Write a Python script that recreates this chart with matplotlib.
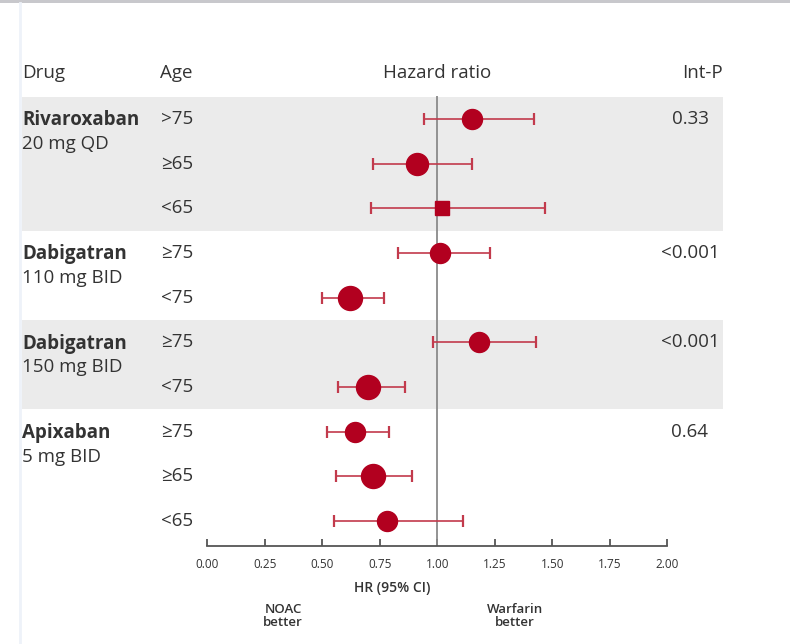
import matplotlib
matplotlib.use("Agg")
import matplotlib.pyplot as plt
import matplotlib.transforms as mtransforms
from matplotlib.patches import Rectangle
import numpy as np

# subgroup data: NOAC vs warfarin by age
drugs = ["Rivaroxaban", "Dabigatran", "Dabigatran", "Apixaban"]
doses = ["20 mg QD", "110 mg BID", "150 mg BID", "5 mg BID"]
group_sizes = [3, 2, 2, 3]
int_p = ["0.33", "<0.001", "<0.001", "0.64"]

ages = [">75", "≥65", "<65", "≥75", "<75", "≥75", "<75", "≥75", "≥65", "<65"]
hr = [1.15, 0.91, 1.02, 1.01, 0.62, 1.18, 0.70, 0.64, 0.72, 0.78]
ci_low = [0.94, 0.72, 0.71, 0.83, 0.50, 0.98, 0.57, 0.52, 0.56, 0.55]
ci_high = [1.42, 1.15, 1.47, 1.23, 0.77, 1.43, 0.86, 0.79, 0.89, 1.11]

xticks = [0.0, 0.25, 0.5, 0.75, 1.0, 1.25, 1.5, 1.75, 2.0]

# marker diameter (px) per row, square for the smallest subgroup
marker_px = [20, 22, 14, 20, 24, 20, 24, 20, 24, 20]
marker_shape = ["o", "o", "s", "o", "o", "o", "o", "o", "o", "o"]

W, H = 790, 644
RED = "#b2001f"
CI_RED = "#c23a4c"
TXT = "#333333"
FS = 13.5
plt.rcParams["font.family"] = ["Open Sans", "DejaVu Sans"]

fig = plt.figure(figsize=(W / 100, H / 100), dpi=100)


def fx(px):
    return px / W


def fy(px):
    return 1 - px / H


ax = fig.add_axes([fx(207.3), fy(546), fx(667.3) - fx(207.3), fy(96) - fy(546)])
ax.patch.set_visible(False)
ax.set_xlim(0, 2)
ax.set_ylim(9.56, -0.515)

rows = np.arange(len(hr))
hr_a = np.array(hr)
err = [hr_a - np.array(ci_low), np.array(ci_high) - hr_a]

ax.errorbar(hr_a, rows, xerr=err, fmt="none", ecolor=CI_RED,
            elinewidth=1.2, capsize=4.5, capthick=1.6, zorder=3)
for i in rows:
    ax.plot(hr[i], i, marker=marker_shape[i], color=RED, ms=marker_px[i] * 0.72,
            mec=RED, zorder=4, linestyle="none")

ax.axvline(1.0, color="#8a8a8a", lw=1.3, zorder=2)

# shaded bands behind alternate drug groups
blend = mtransforms.blended_transform_factory(fig.transFigure, ax.transData)
starts = np.cumsum([0] + group_sizes[:-1])
for g, (s, n) in enumerate(zip(starts, group_sizes)):
    if g % 2 == 0:
        ax.add_patch(Rectangle((fx(22), s - 0.5), fx(723) - fx(22), n,
                               transform=blend, facecolor="#ebebeb",
                               edgecolor="none", clip_on=False, zorder=0))
    ax.text(fx(22), s + 0.03, drugs[g], transform=blend, ha="left", va="center",
            fontsize=FS, fontweight="bold", color=TXT)
    ax.text(fx(22), s + 0.56, doses[g], transform=blend, ha="left", va="center",
            fontsize=FS, color=TXT)
    ax.text(fx(690), s, int_p[g], transform=blend, ha="center", va="center",
            fontsize=FS, color=TXT)

for i in rows:
    ax.text(fx(161), i, ages[i], transform=blend, ha="left", va="center",
            fontsize=FS, color=TXT)

# column headers
fig.text(fx(22), fy(73), "Drug", ha="left", va="center", fontsize=FS, color=TXT)
fig.text(fx(160), fy(73), "Age", ha="left", va="center", fontsize=FS, color=TXT)
fig.text(fx(437), fy(73), "Hazard ratio", ha="center", va="center", fontsize=FS, color=TXT)
fig.text(fx(723), fy(73), "Int-P", ha="right", va="center", fontsize=FS, color=TXT)

# x axis
for side in ["top", "right", "left"]:
    ax.spines[side].set_visible(False)
ax.spines["bottom"].set_color("#555555")
ax.spines["bottom"].set_linewidth(1.3)
ax.set_yticks([])
ax.set_xticks(xticks)
ax.set_xticklabels([f"{t:.2f}" for t in xticks])
ax.tick_params(axis="x", direction="in", length=5, width=1.3, color="#555555",
               labelsize=8.5, labelcolor=TXT, pad=9)

fig.text(fx(392), fy(588), "HR (95% CI)", ha="center", va="center",
         fontsize=10, fontweight="semibold", color=TXT)
fig.text(fx(283), fy(616), "NOAC\nbetter", ha="center", va="center",
         fontsize=9.5, fontweight="semibold", color=TXT, linespacing=1.0)
fig.text(fx(515), fy(616), "Warfarin\nbetter", ha="center", va="center",
         fontsize=9.5, fontweight="semibold", color=TXT, linespacing=1.0)

# page edge details
fig.add_artist(Rectangle((0, fy(3)), 1, fy(0) - fy(3), transform=fig.transFigure,
                         facecolor="#c8c8cc", edgecolor="none"))
fig.add_artist(plt.Line2D([fx(20), fx(20)], [0, fy(3)], transform=fig.transFigure,
                          color="#eef2f9", lw=2))

fig.savefig("out.png", dpi=100)
